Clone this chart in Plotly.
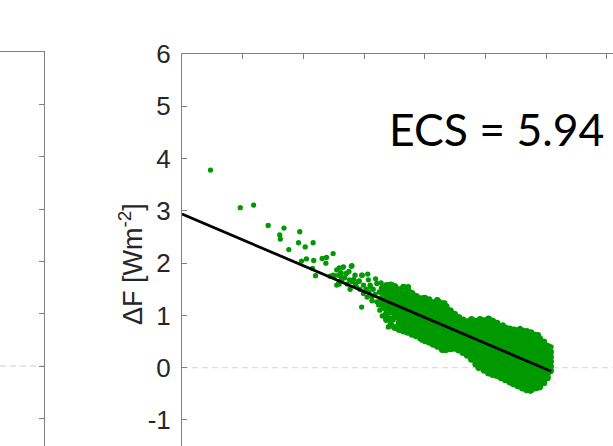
import numpy as np
import plotly.graph_objects as go

# ---------------- data ----------------
ECS_VALUE = 5.94          # annotated equilibrium climate sensitivity (x-intercept of fit)
FIT_INTERCEPT = 2.94      # Delta F at Delta T = 0 of the regression line
FIT_T_END = 6.08          # regression line drawn up to the end of the cloud

Y_TICKS = [-1, 0, 1, 2, 3, 4, 5, 6]
Y_TICK_LABELS = ["-1", "0", "1", "2", "3", "4", "5", "6"]

# scattered / edge points (Delta T [K], Delta F [W m-2])
sparse_T = [0.47, 0.96, 1.18, 1.42, 1.68, 1.61, 1.62, 1.94, 1.92, 2.03, 2.16, 1.76, 1.97, 2.05,
            2.17, 2.15, 2.20, 2.31, 2.38, 2.37, 2.49, 2.44, 2.51, 2.59, 2.65, 2.79, 2.59, 2.62,
            2.71, 2.77, 2.83, 2.97, 3.06, 2.86, 2.92, 2.99, 3.07, 3.21, 3.10, 3.37, 3.48, 2.58,
            2.76, 2.49, 2.66, 2.80, 2.58, 2.70, 2.85, 2.96, 2.55, 2.63, 2.80, 2.91, 3.10, 2.99,
            2.96, 3.13, 3.21, 3.32, 3.45, 3.43, 3.40, 3.48, 3.62, 3.32, 3.40, 3.73, 3.76, 3.84,
            3.98, 4.20, 4.33, 4.47, 5.07, 3.84, 3.95, 4.09, 4.28, 4.53, 4.88, 5.16, 5.43, 5.73,
            5.90, 6.06, 3.03, 3.08, 3.15, 3.18, 3.25, 3.27, 3.24, 3.13, 3.05, 2.87, 2.93, 2.72,
            2.68, 2.62, 2.75, 2.55, 3.19, 3.28, 3.34, 3.36, 3.35, 3.39, 3.70, 3.80, 3.97, 4.17,
            4.48, 4.00, 4.30, 4.89, 5.18, 5.49, 5.74, 5.87, 6.08, 3.65, 3.59, 5.29, 5.57, 5.87,
            4.88, 5.46, 5.90, 3.30, 3.26]
sparse_F = [3.78, 3.06, 3.11, 2.72, 2.67, 2.54, 2.46, 2.60, 2.39, 2.31, 2.39, 2.26, 2.04, 2.08,
            2.05, 1.90, 1.76, 2.09, 2.11, 2.00, 2.18, 1.75, 1.76, 1.91, 1.92, 1.94, 1.60, 1.74,
            1.81, 1.50, 1.69, 1.77, 1.79, 1.60, 1.66, 1.58, 1.68, 1.61, 1.55, 1.54, 1.58, 1.61,
            1.68, 1.77, 1.93, 1.95, 1.77, 1.79, 1.77, 1.77, 1.58, 1.68, 1.65, 1.65, 1.58, 1.42,
            1.16, 1.36, 1.26, 1.14, 1.07, 0.94, 0.78, 0.91, 0.85, 1.55, 1.52, 1.55, 1.45, 1.36,
            1.33, 1.30, 1.24, 1.04, 0.93, 0.63, 0.53, 0.47, 0.34, 0.40, 0.01, -0.14, -0.30, -0.43,
            -0.36, 0.40, 1.50, 1.45, 1.50, 1.40, 1.45, 1.33, 1.20, 1.28, 1.35, 1.55, 1.50, 1.60,
            1.72, 1.82, 1.84, 1.87, 1.70, 1.62, 1.42, 1.30, 1.02, 1.18, 1.54, 1.37, 1.33, 1.26,
            1.01, 0.50, 0.33, 0.00, -0.14, -0.30, -0.45, 0.63, 0.40, 0.72, 1.42, 0.82, 0.75, -0.39,
            -0.01, -0.20, -0.38, 0.99, 1.10]

# dense core of the cloud, column by column
dense_T = [3.30, 3.37, 3.44, 3.51, 3.58, 3.65, 3.72, 3.79, 3.86, 3.93, 4.00, 4.07, 4.14, 4.21,
           4.28, 4.35, 4.42, 4.49, 4.56, 4.63, 4.70, 4.77, 4.84, 4.91, 4.98, 5.05, 5.12, 5.19,
           5.26, 5.33, 5.40, 5.47, 5.54, 5.61, 5.68, 5.75, 5.82, 5.89, 5.96, 6.02, 6.07]
dense_F = [
    [1.21, 1.30, 1.44, 1.52],
    [0.92, 1.02, 1.12, 1.25, 1.36, 1.47, 1.57],
    [0.81, 0.93, 1.07, 1.18, 1.29, 1.40, 1.50, 1.58],
    [0.77, 0.98, 1.10, 1.22, 1.33, 1.42, 1.55],
    [0.73, 0.86, 0.95, 1.05, 1.16, 1.27, 1.37, 1.49],
    [0.70, 0.82, 0.92, 1.01, 1.12, 1.21, 1.31, 1.41, 1.54],
    [0.68, 0.78, 0.88, 0.97, 1.07, 1.16, 1.26, 1.36, 1.48],
    [0.64, 0.74, 0.85, 0.93, 1.02, 1.11, 1.20, 1.30, 1.42],
    [0.61, 0.70, 0.80, 0.89, 0.98, 1.07, 1.16, 1.25, 1.36],
    [0.57, 0.66, 0.75, 0.84, 0.93, 1.02, 1.11, 1.20, 1.32],
    [0.54, 0.63, 0.71, 0.80, 0.88, 0.97, 1.06, 1.15, 1.24, 1.33],
    [0.49, 0.58, 0.67, 0.75, 0.84, 0.92, 1.01, 1.10, 1.19, 1.30],
    [0.45, 0.54, 0.63, 0.71, 0.79, 0.88, 0.96, 1.05, 1.14, 1.24],
    [0.41, 0.50, 0.58, 0.67, 0.75, 0.83, 0.92, 1.00, 1.09, 1.19, 1.28],
    [0.37, 0.46, 0.54, 0.62, 0.71, 0.79, 0.87, 0.95, 1.04, 1.13, 1.23],
    [0.35, 0.43, 0.51, 0.59, 0.67, 0.75, 0.83, 0.91, 0.99, 1.08, 1.17],
    [0.36, 0.45, 0.53, 0.61, 0.69, 0.77, 0.85, 0.93, 1.01, 1.09],
    [0.37, 0.44, 0.52, 0.60, 0.68, 0.76, 0.84, 0.92, 1.02],
    [0.34, 0.42, 0.50, 0.58, 0.66, 0.73, 0.81, 0.89, 0.96],
    [0.29, 0.37, 0.45, 0.53, 0.61, 0.69, 0.77, 0.84, 0.91],
    [0.24, 0.32, 0.40, 0.48, 0.56, 0.64, 0.72, 0.80, 0.88],
    [0.16, 0.25, 0.33, 0.41, 0.49, 0.57, 0.65, 0.73, 0.81, 0.92],
    [0.07, 0.16, 0.24, 0.32, 0.40, 0.48, 0.56, 0.64, 0.72, 0.80, 0.89],
    [0.01, 0.09, 0.17, 0.25, 0.33, 0.41, 0.49, 0.57, 0.65, 0.73, 0.81, 0.92],
    [-0.05, 0.03, 0.11, 0.19, 0.27, 0.35, 0.43, 0.51, 0.59, 0.67, 0.75, 0.83, 0.90],
    [-0.10, -0.02, 0.06, 0.14, 0.22, 0.30, 0.38, 0.46, 0.54, 0.62, 0.70, 0.78, 0.86, 0.93],
    [-0.13, -0.05, 0.03, 0.11, 0.19, 0.27, 0.35, 0.43, 0.51, 0.59, 0.67, 0.75, 0.83, 0.89],
    [-0.15, -0.07, 0.01, 0.09, 0.17, 0.25, 0.33, 0.41, 0.49, 0.57, 0.65, 0.73, 0.85],
    [-0.19, -0.11, -0.03, 0.05, 0.13, 0.21, 0.29, 0.37, 0.45, 0.53, 0.61, 0.69, 0.79],
    [-0.23, -0.15, -0.07, 0.01, 0.09, 0.17, 0.25, 0.33, 0.41, 0.49, 0.57, 0.65, 0.76],
    [-0.27, -0.19, -0.11, -0.03, 0.05, 0.13, 0.21, 0.29, 0.37, 0.45, 0.53, 0.61, 0.69, 0.74],
    [-0.31, -0.23, -0.15, -0.07, 0.01, 0.09, 0.17, 0.25, 0.33, 0.41, 0.49, 0.57, 0.65, 0.72],
    [-0.35, -0.27, -0.19, -0.11, -0.03, 0.05, 0.13, 0.21, 0.29, 0.37, 0.45, 0.53, 0.61, 0.71],
    [-0.39, -0.31, -0.23, -0.15, -0.07, 0.01, 0.09, 0.17, 0.25, 0.33, 0.41, 0.49, 0.57, 0.65, 0.70],
    [-0.42, -0.34, -0.26, -0.18, -0.10, -0.02, 0.06, 0.14, 0.22, 0.30, 0.38, 0.46, 0.54, 0.62, 0.69],
    [-0.42, -0.33, -0.25, -0.17, -0.09, -0.01, 0.07, 0.15, 0.23, 0.31, 0.39, 0.47, 0.55, 0.63, 0.67],
    [-0.39, -0.31, -0.23, -0.15, -0.07, 0.01, 0.09, 0.17, 0.25, 0.33, 0.41, 0.49, 0.56, 0.62],
    [-0.35, -0.27, -0.19, -0.11, -0.03, 0.05, 0.13, 0.21, 0.29, 0.37, 0.45, 0.52, 0.56],
    [-0.29, -0.21, -0.13, -0.05, 0.03, 0.11, 0.19, 0.27, 0.35, 0.43, 0.49],
    [-0.19, -0.11, -0.03, 0.05, 0.13, 0.21, 0.29, 0.36, 0.41],
    [-0.06, 0.03, 0.12, 0.21, 0.30],
]

# ---------------- assemble ----------------
core_T, core_F = [], []
for t, col in zip(dense_T, dense_F):
    core_T.extend([t] * len(col))
    core_F.extend(col)

fit_slope = -FIT_INTERCEPT / ECS_VALUE
line_T = np.array([0.0, FIT_T_END])
line_F = FIT_INTERCEPT + fit_slope * line_T

W, H = 613, 446
GREEN = "#009900"
AX = "#808080"
TXT = "#262626"

# right (main) panel geometry
R_LEFT = 182 / W
R_TOP = 1 - 54 / H
R_XMAX = (W - 182) / 60.7
R_YMIN = -(H - 367.7) / 52.28
# left (cut-off) panel geometry
L_RIGHT = 44 / W
L_TOP = 1 - 52.3 / H
L_YMIN = -(H - 366) / 52.28

fig = go.Figure()
fig.add_trace(go.Scatter(x=core_T, y=core_F, mode="markers",
                         marker=dict(color=GREEN, size=7, line=dict(width=0)),
                         xaxis="x", yaxis="y", showlegend=False, hoverinfo="skip"))
fig.add_trace(go.Scatter(x=sparse_T, y=sparse_F, mode="markers",
                         marker=dict(color=GREEN, size=5.3, line=dict(width=0)),
                         xaxis="x", yaxis="y", showlegend=False, hoverinfo="skip"))
fig.add_trace(go.Scatter(x=line_T, y=line_F, mode="lines",
                         line=dict(color="black", width=2.8),
                         xaxis="x", yaxis="y", showlegend=False, hoverinfo="skip"))
# invisible trace so the left panel axes are drawn
fig.add_trace(go.Scatter(x=[0.5], y=[10], mode="markers", marker=dict(opacity=0),
                         xaxis="x2", yaxis="y2", showlegend=False, hoverinfo="skip"))

fig.update_layout(
    width=W, height=H,
    margin=dict(l=0, r=0, t=0, b=0),
    paper_bgcolor="white", plot_bgcolor="white",
    xaxis=dict(domain=[R_LEFT, 1], range=[0, R_XMAX], side="top", anchor="y",
               showline=True, linecolor=AX, linewidth=1, mirror=False,
               ticks="inside", ticklen=5, tickcolor=AX, dtick=1, tick0=0,
               showticklabels=False, showgrid=False, zeroline=False),
    yaxis=dict(domain=[0, R_TOP], range=[R_YMIN, 6], anchor="x",
               showline=True, linecolor=AX, linewidth=1, mirror=False,
               ticks="inside", ticklen=5, tickcolor=AX,
               tickvals=Y_TICKS, ticktext=Y_TICK_LABELS, ticklabelstandoff=5,
               tickfont=dict(family="Liberation Sans, Arial", size=26, color=TXT),
               showgrid=False, zeroline=False, automargin=False),
    xaxis2=dict(domain=[0, L_RIGHT], range=[0, 1], side="top", anchor="y2",
                showline=True, linecolor=AX, linewidth=1, ticks="",
                showticklabels=False, showgrid=False, zeroline=False),
    yaxis2=dict(domain=[0, L_TOP], range=[L_YMIN, 6], anchor="x2", side="right",
                showline=True, linecolor=AX, linewidth=1,
                ticks="inside", ticklen=5, tickcolor=AX, tickvals=Y_TICKS,
                showticklabels=False, showgrid=False, zeroline=False, automargin=False),
    shapes=[
        dict(type="line", xref="x domain", yref="y", x0=0, x1=1, y0=0, y1=0,
             line=dict(color="#dedede", width=1.3, dash="6px,4px"), layer="below"),
        dict(type="line", xref="x2 domain", yref="y2", x0=0, x1=1, y0=0, y1=0,
             line=dict(color="#dedede", width=1.3, dash="6px,4px"), layer="below"),
    ],
    annotations=[
        dict(text="\u0394F [Wm<sup>-2</sup>]", xref="paper", yref="paper",
             x=131 / W, y=1 - 264 / H, xanchor="center", yanchor="middle",
             textangle=-90, showarrow=False,
             font=dict(family="Liberation Sans, Arial", size=27, color=TXT)),
        dict(text="ECS = 5.94", xref="paper", yref="paper",
             x=496.5 / W, y=1 - 128.5 / H, xanchor="center", yanchor="middle",
             showarrow=False, font=dict(family="Lato", size=44.5, color="black")),
    ],
)

fig.write_html("out.html", config={"displayModeBar": False},
               post_script="document.body.style.margin='0px';document.body.style.overflow='hidden';")
